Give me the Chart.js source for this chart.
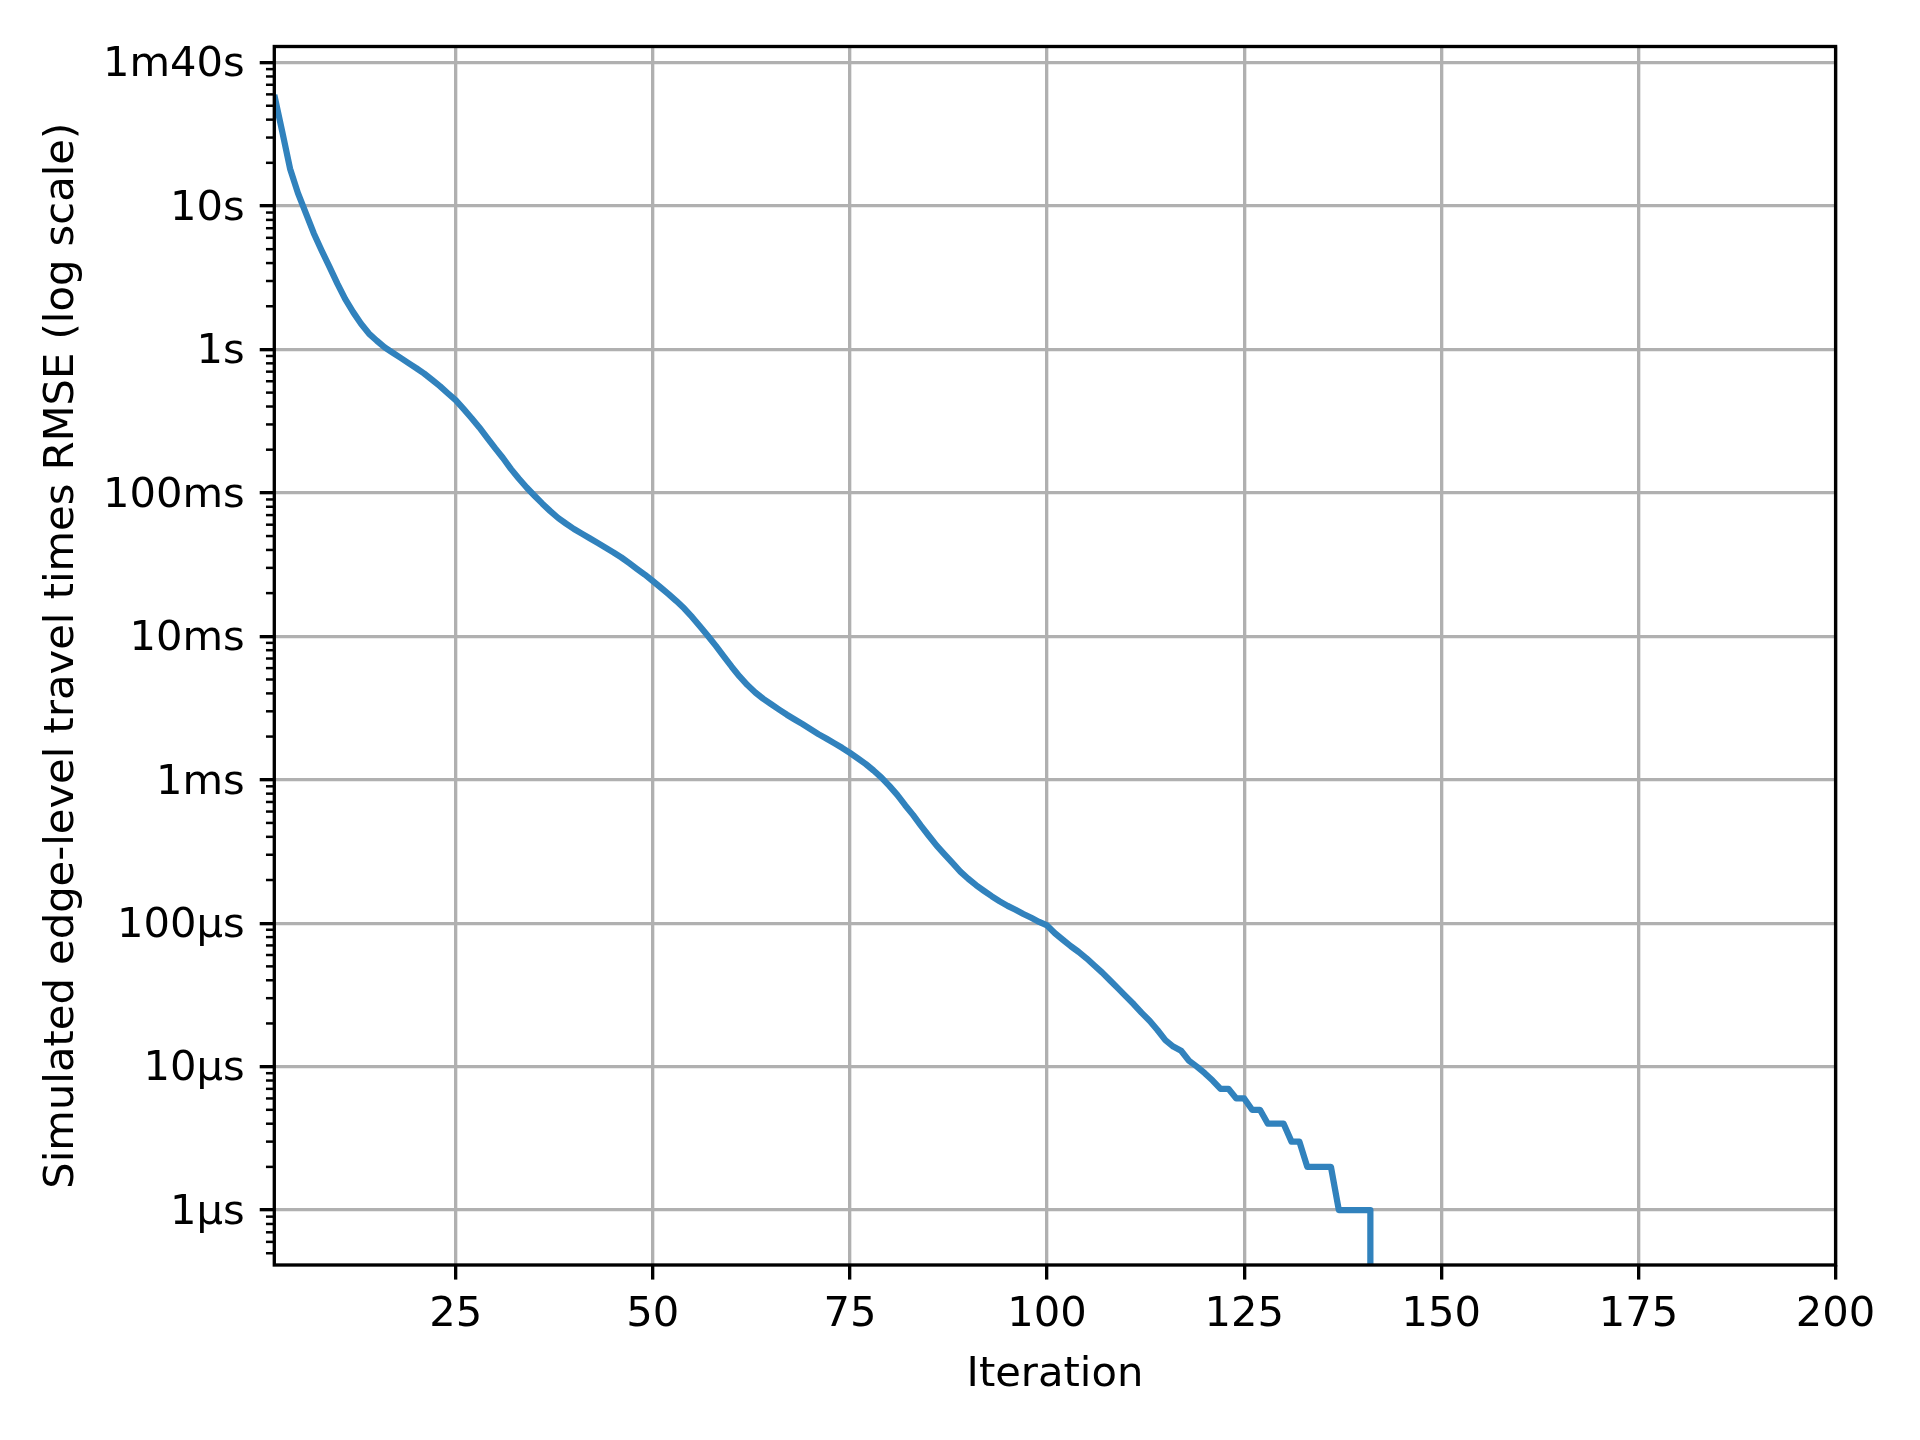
<!DOCTYPE html>
<html>
<head>
<meta charset="utf-8">
<title>Simulated edge-level travel times RMSE</title>
<script src="https://cdn.jsdelivr.net/npm/chart.js@4.4.1/dist/chart.umd.min.js"></script>
<style>
  html, body { margin: 0; padding: 0; background: #fff; }
  canvas { display: block; }
</style>
</head>
<body>
<canvas id="chart" width="1920" height="1440"></canvas>
<script>
const iterations = [
    2, 3, 4, 5, 6, 7, 8, 9, 10, 11,
    12, 13, 14, 15, 16, 17, 18, 19, 20, 21,
    22, 23, 24, 25, 26, 27, 28, 29, 30, 31,
    32, 33, 34, 35, 36, 37, 38, 39, 40, 41,
    42, 43, 44, 45, 46, 47, 48, 49, 50, 51,
    52, 53, 54, 55, 56, 57, 58, 59, 60, 61,
    62, 63, 64, 65, 66, 67, 68, 69, 70, 71,
    72, 73, 74, 75, 76, 77, 78, 79, 80, 81,
    82, 83, 84, 85, 86, 87, 88, 89, 90, 91,
    92, 93, 94, 95, 96, 97, 98, 99, 100, 101,
    102, 103, 104, 105, 106, 107, 108, 109, 110, 111,
    112, 113, 114, 115, 116, 117, 118, 119, 120, 121,
    122, 123, 124, 125, 126, 127, 128, 129, 130, 131,
    132, 133, 134, 135, 136, 137, 138, 139, 140, 141,
    142,
];

// RMSE in seconds
const rmseSeconds = [
    59.6, 33.1, 18.2, 12.3, 8.91, 6.46, 4.90, 3.76, 2.88, 2.24,
    1.82, 1.51, 1.29, 1.15, 1.035, 0.951, 0.875, 0.804, 0.741, 0.679,
    0.614, 0.555, 0.495, 0.443, 0.385, 0.333, 0.286, 0.242, 0.205, 0.175,
    0.147, 0.126, 0.109, 0.0955, 0.0841, 0.0746, 0.0668, 0.0610, 0.0560, 0.0520,
    0.0483, 0.0448, 0.0415, 0.0385, 0.0355, 0.0324, 0.0295, 0.0269, 0.0243, 0.0219,
    0.0197, 0.0176, 0.0156, 0.0136, 0.0117, 0.01005, 0.00857, 0.00724, 0.00614, 0.00525,
    0.00457, 0.00406, 0.00367, 0.00337, 0.00309, 0.00284, 0.00263, 0.00244, 0.00225, 0.00208,
    0.00194, 0.00180, 0.00167, 0.00154, 0.00141, 0.001288, 0.00116, 0.001035, 9.06e-4, 7.85e-4,
    6.65e-4, 5.69e-4, 4.79e-4, 4.07e-4, 3.47e-4, 3.02e-4, 2.63e-4, 2.29e-4, 2.04e-4, 1.84e-4,
    1.68e-4, 1.54e-4, 1.42e-4, 1.32e-4, 1.24e-4, 1.16e-4, 1.09e-4, 1.02e-4, 9.64e-5, 8.51e-5,
    7.67e-5, 6.92e-5, 6.31e-5, 5.69e-5, 5.07e-5, 4.52e-5, 3.98e-5, 3.51e-5, 3.09e-5, 2.72e-5,
    2.37e-5, 2.09e-5, 1.80e-5, 1.53e-5, 1.38e-5, 1.29e-5, 1.10e-5, 1.0e-5, 9e-6, 8e-6,
    7e-6, 7e-6, 6e-6, 6e-6, 5e-6, 5e-6, 4e-6, 4e-6, 4e-6, 3e-6,
    3e-6, 2e-6, 2e-6, 2e-6, 2e-6, 1e-6, 1e-6, 1e-6, 1e-6, 1e-6,
    0,
];

const xTicks = [25, 50, 75, 100, 125, 150, 175, 200];
const yTicks = [1e-6, 1e-5, 1e-4, 1e-3, 1e-2, 1e-1, 1, 10, 100];
const yTickLabels = ['1µs', '10µs', '100µs', '1ms', '10ms', '100ms', '1s', '10s', '1m40s'];

const PT = 300 / 72; // figure saved at 300 dpi
const FONT = { family: 'DejaVu Sans', size: 10 * PT, lineHeight: 1.2 };

// a zero cannot sit on a log axis: clip it far below, the way matplotlib does
const points = iterations.map((it, i) => ({ x: it, y: rmseSeconds[i] > 0 ? rmseSeconds[i] : 1e-300 }));

// spines all round + minor log ticks
const frame = {
    id: 'frame',
    afterDatasetsDraw(chart) {
        const { ctx, chartArea: a, scales: { y } } = chart;
        ctx.save();
        ctx.strokeStyle = '#000';
        ctx.lineWidth = 0.6 * PT;
        for (let e = -7; e <= 2; e++) {
            for (let m = 2; m <= 9; m++) {
                const v = m * Math.pow(10, e);
                if (v < y.min || v > y.max) continue;
                const py = y.getPixelForValue(v);
                ctx.beginPath();
                ctx.moveTo(a.left - 2 * PT, py);
                ctx.lineTo(a.left, py);
                ctx.stroke();
            }
        }
        ctx.lineWidth = 0.8 * PT;
        ctx.strokeRect(a.left, a.top, a.right - a.left, a.bottom - a.top);
        ctx.restore();
    }
};

const gridOpts = {
    color: '#b0b0b0',
    lineWidth: 0.8 * PT,
    tickColor: '#000',
    tickWidth: 0.8 * PT,
    tickLength: 3.5 * PT,
};

new Chart(document.getElementById('chart'), {
    type: 'line',
    data: {
        datasets: [{
            label: 'RMSE',
            data: points,
            borderColor: '#3182bd',
            borderWidth: 1.5 * PT,
            borderJoinStyle: 'round',
            borderCapStyle: 'butt',
            pointRadius: 0,
            tension: 0,
            fill: false,
        }]
    },
    options: {
        responsive: false,
        devicePixelRatio: 1,
        animation: false,
        layout: { padding: { left: 0, top: 46.5, right: 84.4, bottom: 0 } },
        plugins: {
            legend: { display: false },
            tooltip: { enabled: false },
        },
        scales: {
            x: {
                type: 'linear',
                min: 2,
                max: 200,
                afterBuildTicks: (ax) => { ax.ticks = xTicks.map(v => ({ value: v })); },
                afterFit: (ax) => { ax.height = 175; },
                grid: gridOpts,
                border: { display: false },
                ticks: { font: FONT, color: '#000', padding: 11, maxRotation: 0, autoSkip: false },
                title: { display: true, text: 'Iteration', font: FONT, color: '#000', padding: { top: 0, bottom: 39.5 } },
            },
            y: {
                type: 'logarithmic',
                min: 4.14e-7,
                max: 129.4,
                afterBuildTicks: (ax) => { ax.ticks = yTicks.map(v => ({ value: v })); },
                afterFit: (ax) => { ax.width = 274.3; },
                grid: gridOpts,
                border: { display: false },
                ticks: {
                    font: FONT, color: '#000', padding: 15, autoSkip: false, labelOffset: 3,
                    callback: (v, i) => yTickLabels[i],
                },
                title: {
                    display: true,
                    text: 'Simulated edge-level travel times RMSE (log scale)',
                    font: FONT, color: '#000', padding: { top: 37.5, bottom: 0 },
                },
            },
        },
    },
    plugins: [frame],
});
</script>
</body>
</html>
